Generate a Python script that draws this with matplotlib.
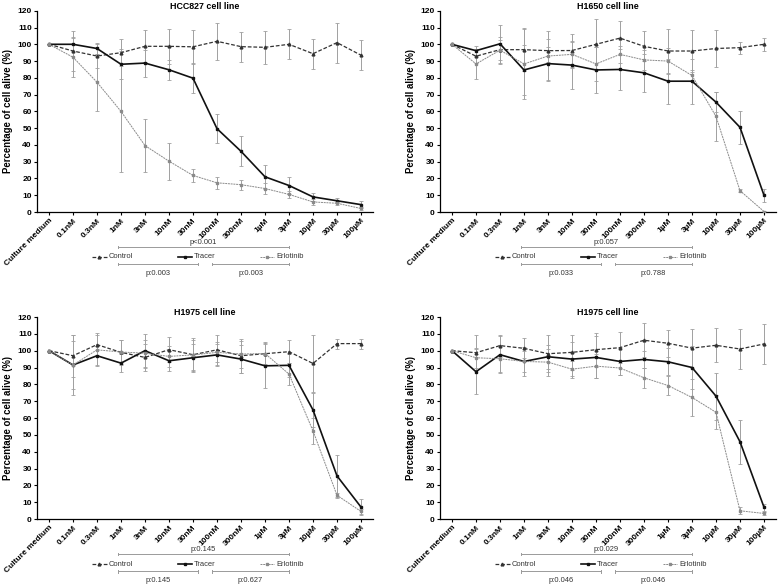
import matplotlib
matplotlib.use("Agg")
import matplotlib.pyplot as plt

plt.rcParams["font.family"] = ["Liberation Sans", "DejaVu Sans"]

doses = ["Culture medium", "0.1nM", "0.3nM", "1nM", "3nM", "10nM", "30nM",
         "100nM", "300nM", "1µM", "3µM", "10µM", "30µM", "100µM"]

# HCC827
hcc827_control = [100, 96, 93, 95, 98.8, 98.8, 98.5, 101.8, 98.6, 98.2, 100, 94.4, 101, 93.5]
hcc827_control_err = [0, 12, 7, 8, 9.5, 10.5, 10, 11, 9, 10, 9, 9, 12, 9]
hcc827_tracer = [100, 100, 97.5, 88.1, 88.8, 84.8, 79.8, 49.7, 36.2, 21, 15.8, 9, 6.7, 4.4]
hcc827_tracer_err = [0, 4, 3, 9, 8, 6, 9, 8.5, 9, 7, 5, 2.5, 1.5, 2]
hcc827_erlotinib = [100, 92.3, 77.4, 60, 39.6, 30.3, 21.8, 17.4, 16.3, 14, 10.5, 6, 5.2, 2.1]
hcc827_erlotinib_err = [0, 12, 17, 36, 16, 11, 4, 3.5, 3, 3, 2, 2, 1, 1]

# H1650
h1650_control = [100, 92.9, 96.8, 96.8, 96.2, 96.3, 100, 103.7, 98.8, 96, 96, 97.5, 98, 100]
h1650_control_err = [0, 4, 6, 13, 7, 10, 15, 10, 9, 13, 12.5, 11, 3.5, 4]
h1650_tracer = [100, 96.2, 100.3, 84.7, 88.5, 87.6, 84.7, 85, 83, 78, 78, 65.5, 50.5, 10]
h1650_tracer_err = [0, 3, 11.5, 15, 10, 14, 13.8, 12, 11.5, 13.5, 13.5, 6, 10, 4]
h1650_erlotinib = [100, 88.3, 96.5, 88.3, 93, 94, 88.3, 94, 90.7, 90, 81.4, 57, 12.7, 0.3]
h1650_erlotinib_err = [0, 9, 8, 21, 15, 8, 10, 5, 6, 8, 3, 14.5, 1, 0.5]

# H1975 (left)
h1975a_control = [100, 97, 103.6, 99, 96, 100.6, 97.6, 100.5, 97, 98.2, 99.4, 92.4, 104.2, 104.2]
h1975a_control_err = [0, 12.5, 7, 7.5, 8, 7.5, 10, 9, 10, 7, 7, 17, 3, 3]
h1975a_tracer = [100, 91.5, 97, 92.6, 100, 94, 95.8, 97.5, 95, 91, 91.3, 64.8, 25.6, 7.1]
h1975a_tracer_err = [0, 14, 6, 5.5, 10, 6, 8, 6.5, 8.5, 13, 7, 10, 12.5, 5]
h1975a_erlotinib = [100, 91.5, 100.5, 99.2, 98.5, 96.6, 97.5, 99, 98, 98.3, 86.1, 52.3, 14.1, 4.5]
h1975a_erlotinib_err = [0, 18, 9, 7, 8, 6, 9, 6, 8, 6, 6.5, 7.5, 1.5, 1.5]

# H1975 (right)
h1975b_control = [100, 98.8, 103, 101.4, 98.2, 99, 100.6, 101.8, 106.2, 104.4, 101.5, 103.2, 101, 104]
h1975b_control_err = [0, 10.5, 6.5, 6, 11, 10.5, 10, 9, 10, 8, 11.5, 10, 12, 12]
h1975b_tracer = [100, 87.5, 97.6, 93.6, 96.4, 95, 96, 93.6, 94.8, 93.4, 90, 73, 45.9, 7]
h1975b_tracer_err = [0, 13.5, 11, 8.5, 7, 10, 12.5, 8, 5, 8, 13, 14, 13, 2]
h1975b_erlotinib = [100, 95.8, 95.2, 93.6, 93.2, 89, 90.8, 89.7, 83.9, 79.3, 72.2, 63.4, 4.9, 3.3]
h1975b_erlotinib_err = [0, 6, 8, 6, 8, 5, 7, 4, 6, 5.5, 11, 10, 2, 1]

titles = ["HCC827 cell line", "H1650 cell line", "H1975 cell line", "H1975 cell line"]
p_top = ["p<0.001", "p:0.057", "p:0.145", "p:0.029"]
p_left = ["p:0.003", "p:0.033", "p:0.145", "p:0.046"]
p_right = ["p:0.003", "p:0.788", "p:0.627", "p:0.046"]

panels = [
    (hcc827_control, hcc827_control_err, hcc827_tracer, hcc827_tracer_err, hcc827_erlotinib, hcc827_erlotinib_err),
    (h1650_control, h1650_control_err, h1650_tracer, h1650_tracer_err, h1650_erlotinib, h1650_erlotinib_err),
    (h1975a_control, h1975a_control_err, h1975a_tracer, h1975a_tracer_err, h1975a_erlotinib, h1975a_erlotinib_err),
    (h1975b_control, h1975b_control_err, h1975b_tracer, h1975b_tracer_err, h1975b_erlotinib, h1975b_erlotinib_err),
]

styles = {
    "Control": dict(color="#333333", lw=0.9, ls=(0, (3, 1.5)), marker="^", ms=2.0),
    "Tracer": dict(color="#111111", lw=1.2, ls="-", marker="s", ms=2.0),
    "Erlotinib": dict(color="#8a8a8a", lw=0.7, ls=(0, (2, 0.8)), marker="s", ms=2.0),
}
err_color = "#a0a0a0"
GRAY = "#9a9a9a"

fig = plt.figure(figsize=(7.78, 5.85), dpi=100)
boxes = [
    [37 / 778, 0.6376, 336 / 778, 0.344],
    [440 / 778, 0.6376, 336 / 778, 0.344],
    [37 / 778, 0.1128, 336 / 778, 0.3453],
    [440 / 778, 0.1128, 336 / 778, 0.3453],
]

x = list(range(len(doses)))

for k, (box, data) in enumerate(zip(boxes, panels)):
    ax = fig.add_axes(box)
    series = [("Control", data[0], data[1]), ("Tracer", data[2], data[3]), ("Erlotinib", data[4], data[5])]
    for name, y, e in series:
        ax.errorbar(x, y, yerr=e, fmt="none", ecolor=err_color, elinewidth=0.7,
                    capsize=1.5, capthick=0.6, zorder=1)
    for name, y, e in series:
        st = styles[name]
        ax.plot(x, y, color=st["color"], lw=st["lw"], ls=st["ls"], marker=st["marker"],
                ms=st["ms"], mfc=st["color"], mec=st["color"], zorder=3)

    ax.set_xlim(-0.5, 13.5)
    ax.set_ylim(0, 120)
    ax.set_yticks(range(0, 121, 10))
    ax.set_xticks(x)
    ax.set_xticklabels(doses, rotation=45, ha="right", rotation_mode="anchor",
                       fontsize=6, fontweight="bold")
    for lab in ax.get_yticklabels():
        lab.set_fontsize(6)
        lab.set_fontweight("bold")
    ax.tick_params(length=2.5, width=0.8, pad=1.2, direction="out")
    for s in ["top", "right"]:
        ax.spines[s].set_visible(False)
    for s in ["left", "bottom"]:
        ax.spines[s].set_linewidth(0.9)
    ax.set_title(titles[k], fontsize=6.4, fontweight="bold", pad=1)
    ax.set_ylabel("Percentage of cell alive (%)", fontsize=6.9, fontweight="bold", labelpad=3)

    # comparison brackets and legend row beneath the axis
    def bracket(x0, x1, yb):
        ax.plot([x0, x1], [yb, yb], color=GRAY, lw=0.7, clip_on=False)
        for xx in (x0, x1):
            ax.plot([xx, xx], [yb - 0.8, yb + 0.8], color=GRAY, lw=0.7, clip_on=False)

    bracket(2.88, 10.0, -20.8)
    ax.text(6.44, -17.9, p_top[k], ha="center", va="center", fontsize=5.4, color="#333333")
    bracket(2.88, 6.22, -31.0)
    bracket(6.78, 10.0, -31.0)
    ax.text(4.55, -36.4, p_left[k], ha="center", va="center", fontsize=5.4, color="#333333")
    ax.text(8.4, -36.4, p_right[k], ha="center", va="center", fontsize=5.4, color="#333333")

    for name, cx in [("Control", 2.1), ("Tracer", 5.67), ("Erlotinib", 9.08)]:
        st = styles[name]
        ax.plot([cx - 0.3, cx + 0.3], [-26.8, -26.8], color=st["color"], lw=st["lw"],
                ls=st["ls"], clip_on=False)
        ax.plot([cx], [-26.8], marker=st["marker"], ms=st["ms"], color=st["color"], clip_on=False)
        ax.text(cx + 0.38, -26.8, name, ha="left", va="center", fontsize=5.4, color="#333333")

fig.savefig("out.png", dpi=100)
